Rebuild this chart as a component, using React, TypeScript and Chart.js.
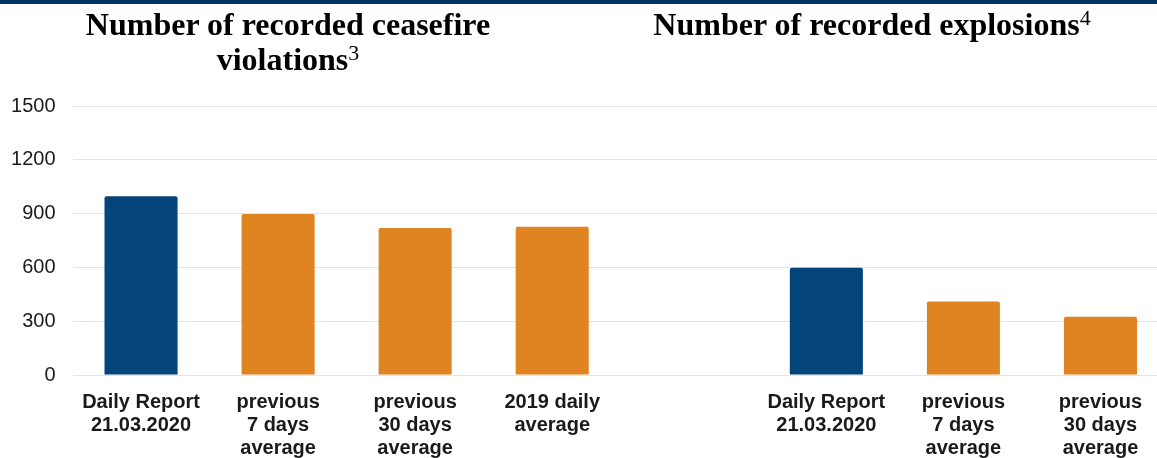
import React, { useEffect, useRef } from "react";
import { Chart, registerables } from "chart.js";

Chart.register(...registerables);

const categories: (string | string[])[] = [
  ["Daily Report", "21.03.2020"],
  ["previous", "7 days", "average"],
  ["previous", "30 days", "average"],
  ["2019 daily", "average"],
  "",
  ["Daily Report", "21.03.2020"],
  ["previous", "7 days", "average"],
  ["previous", "30 days", "average"],
];
const values: (number | null)[] = [997, 898, 820, 826, null, 598, 410, 325];
const barColors = ["#03457A", "#DF8420", "#DF8420", "#DF8420", "#DF8420", "#03457A", "#DF8420", "#DF8420"];
const yTicks = [0, 300, 600, 900, 1200, 1500];
const title1 = ["Number of recorded ceasefire", "violations"];
const title1Sup = "3";
const title2 = "Number of recorded explosions";
const title2Sup = "4";

export default function App() {
  const ref = useRef<HTMLCanvasElement>(null);
  useEffect(() => {
    if (!ref.current) return;
    const chart = new Chart(ref.current, {
      type: "bar",
      data: {
        labels: categories,
        datasets: [
          {
            data: values,
            backgroundColor: barColors,
            borderRadius: 2,
            borderSkipped: "bottom",
            barPercentage: 0.533,
            categoryPercentage: 1,
          },
        ],
      },
      options: {
        animation: false,
        responsive: true,
        maintainAspectRatio: false,
        layout: { padding: { top: 106, left: 0, right: 0, bottom: 0 } },
        plugins: { legend: { display: false }, tooltip: { enabled: false } },
        scales: {
          x: {
            grid: { display: false },
            border: { display: false },
            ticks: {
              color: "#1a1a1a",
              font: { family: "Liberation Sans, Arial, sans-serif", size: 20, weight: "bold", lineHeight: 1.15 },
              padding: 8,
              maxRotation: 0,
              autoSkip: false,
            },
            afterFit: (s: any) => {
              s.height = 83;
            },
          },
          y: {
            min: 0,
            max: 1500,
            afterBuildTicks: (s: any) => {
              s.ticks = yTicks.map((v) => ({ value: v }));
            },
            grid: { color: "#e4e4e4", lineWidth: 1, drawTicks: false },
            border: { display: false },
            ticks: {
              color: "#1a1a1a",
              font: { family: "Liberation Sans, Arial, sans-serif", size: 20 },
              padding: 17,
              callback: (v: any) => String(v),
            },
            afterFit: (s: any) => {
              s.width = 72.5;
            },
          },
        },
      },
    });
    return () => chart.destroy();
  }, []);

  const titleStyle: React.CSSProperties = {
    position: "absolute",
    fontFamily: "'Liberation Serif', 'Times New Roman', serif",
    fontWeight: "bold",
    fontSize: 32,
    lineHeight: "35px",
    color: "#000",
    textAlign: "center",
    whiteSpace: "nowrap",
  };
  const supStyle: React.CSSProperties = {
    fontWeight: "normal",
    fontSize: 22,
    position: "relative",
    top: -10,
  };

  return (
    <div style={{ position: "fixed", left: 0, top: 0, width: 1157, height: 458, overflow: "hidden", background: "#fff" }}>
      <div style={{ position: "absolute", left: 0, top: 0, width: 1169, height: 458 }}>
        <canvas ref={ref} />
      </div>
      <div style={{ position: "absolute", left: 0, top: 0, width: 1157, height: 4, background: "#003366" }} />
      <div style={{ ...titleStyle, left: 288, top: 7, transform: "translateX(-50%)" }}>
        {title1[0]}
        <br />
        {title1[1]}
        <span style={supStyle}>{title1Sup}</span>
      </div>
      <div style={{ ...titleStyle, left: 872, top: 7, transform: "translateX(-50%)" }}>
        {title2}
        <span style={supStyle}>{title2Sup}</span>
      </div>
    </div>
  );
}
